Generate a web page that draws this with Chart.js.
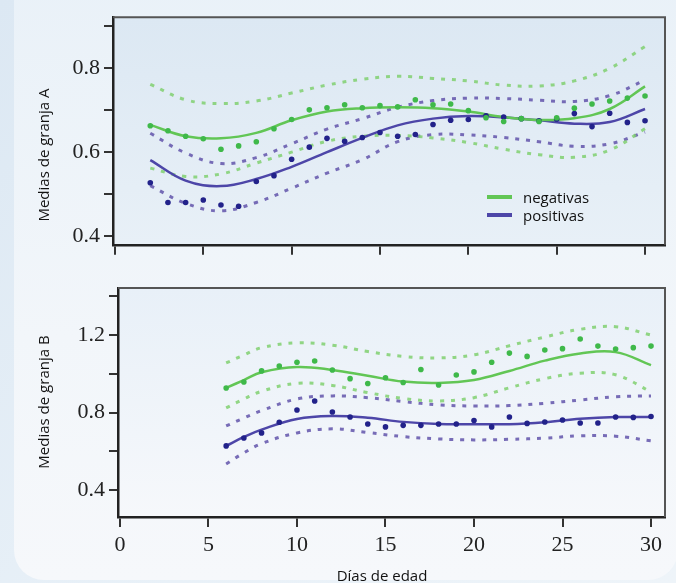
<!DOCTYPE html>
<html lang="es">

<head>
  <meta charset="UTF-8">
  <title>Medias de granja</title>
  <script src="https://cdn.jsdelivr.net/npm/chart.js"></script>
  <style>
    body {
      margin: 0;
      width: 676px;
      height: 583px;
      overflow: hidden;
      position: relative;
      background: linear-gradient(135deg, #dce8f3, #e9f1f8 60%, #eef4f9);
      font-family: 'Open Sans', sans-serif;
      color: #111;
    }
    .card {
      position: absolute;
      left: 14px;
      top: -30px;
      width: 664px;
      height: 610px;
      border-radius: 30px;
      background: linear-gradient(#e9f1f8, #f2f6fa 60%, #f6f8fb);
    }
    canvas { position: absolute; left: 0; }
    #chartA { top: 0; }
    #chartB { top: 262px; }
    .ytitle {
      position: absolute;
      width: 0;
      height: 0;
    }
    .ytitle span {
      position: absolute;
      white-space: nowrap;
      font-size: 15px;
      transform: translate(-50%, -50%) rotate(-90deg);
    }
    .xtitle {
      position: absolute;
      left: 382px;
      top: 575px;
      white-space: nowrap;
      font-size: 15px;
      transform: translate(-50%, -50%);
    }
    .legend {
      position: absolute;
      left: 487px;
      top: 188px;
      font-size: 15px;
      line-height: 18px;
    }
    .legend div { display: flex; align-items: center; }
    .legend i { display: inline-block; width: 25px; height: 4px; margin-right: 11px; }
  </style>
</head>

<body>
  <div class="card"></div>
  <canvas id="chartA" width="676" height="262"></canvas>
  <canvas id="chartB" width="676" height="321"></canvas>
  <div class="ytitle" style="left:43px; top:155px"><span>Medias de granja A</span></div>
  <div class="ytitle" style="left:43px; top:402px"><span>Medias de granja B</span></div>
  <div class="xtitle">Días de edad</div>
  <div class="legend" id="legend"></div>

  <script>
    // series names and colours
    const seriesNames = ['negativas', 'positivas'];
    const green = { dot: '#3fb94a', fit: '#62c655', band: 'rgba(128,208,112,0.85)' };
    const blue = { dot: '#22228a', fit: '#4d46a8', band: 'rgba(98,84,170,0.85)' };

    // x / y ticks
    const xTicks = [0, 5, 10, 15, 20, 25, 30];
    const xLabels = ['0', '5', '10', '15', '20', '25', '30'];
    const yTicksA = [0.4, 0.5, 0.6, 0.7, 0.8, 0.9];
    const yLabelsA = ['0.4', '', '0.6', '', '0.8', ''];
    const yTicksB = [0.4, 0.6, 0.8, 1.0, 1.2, 1.4];
    const yLabelsB = ['0.4', '', '0.8', '', '1.2', ''];

    // granja A: daily means, days 2..30
    const daysA = [2, 3, 4, 5, 6, 7, 8, 9, 10, 11, 12, 13, 14, 15, 16, 17, 18, 19, 20, 21, 22, 23, 24, 25, 26, 27, 28, 29, 30];
    const negA = [0.663, 0.651, 0.638, 0.632, 0.607, 0.615, 0.625, 0.656, 0.678, 0.701, 0.706, 0.713, 0.706, 0.711, 0.708, 0.725, 0.713, 0.715, 0.699, 0.682, 0.673, 0.680, 0.673, 0.682, 0.705, 0.715, 0.722, 0.729, 0.734];
    const posA = [0.527, 0.480, 0.480, 0.486, 0.474, 0.471, 0.530, 0.544, 0.583, 0.612, 0.633, 0.626, 0.635, 0.647, 0.638, 0.642, 0.666, 0.676, 0.678, 0.687, 0.684, 0.680, 0.675, 0.679, 0.692, 0.661, 0.693, 0.671, 0.675];

    // granja A: fitted curves and bands
    const fitDaysA = [2, 4, 6, 8, 10, 12, 14, 16, 18, 20, 22, 24, 26, 28, 30];
    const negFitA = [0.665, 0.638, 0.633, 0.646, 0.676, 0.697, 0.705, 0.707, 0.705, 0.697, 0.684, 0.677, 0.681, 0.703, 0.757];
    const negHiA = [0.762, 0.725, 0.716, 0.722, 0.741, 0.760, 0.774, 0.781, 0.776, 0.770, 0.760, 0.758, 0.770, 0.800, 0.852];
    const negLoA = [0.562, 0.542, 0.548, 0.574, 0.600, 0.626, 0.638, 0.640, 0.634, 0.623, 0.607, 0.594, 0.588, 0.605, 0.656];
    const posFitA = [0.581, 0.532, 0.519, 0.536, 0.565, 0.600, 0.634, 0.664, 0.680, 0.686, 0.683, 0.676, 0.668, 0.672, 0.703];
    const posHiA = [0.645, 0.598, 0.573, 0.587, 0.620, 0.655, 0.680, 0.707, 0.723, 0.729, 0.728, 0.724, 0.721, 0.735, 0.772];
    const posLoA = [0.520, 0.478, 0.460, 0.480, 0.514, 0.550, 0.582, 0.625, 0.642, 0.641, 0.635, 0.625, 0.614, 0.620, 0.648];

    // granja B: daily means, days 6..30
    const daysB = [6, 7, 8, 9, 10, 11, 12, 13, 14, 15, 16, 17, 18, 19, 20, 21, 22, 23, 24, 25, 26, 27, 28, 29, 30];
    const negB = [0.927, 0.958, 1.015, 1.040, 1.060, 1.066, 1.020, 0.975, 0.950, 0.980, 0.955, 1.022, 0.942, 0.994, 1.010, 1.060, 1.107, 1.090, 1.123, 1.130, 1.180, 1.143, 1.128, 1.135, 1.143];
    const posB = [0.628, 0.669, 0.695, 0.750, 0.813, 0.860, 0.803, 0.777, 0.741, 0.726, 0.734, 0.734, 0.741, 0.741, 0.759, 0.726, 0.777, 0.744, 0.751, 0.762, 0.746, 0.746, 0.777, 0.775, 0.780];

    // granja B: fitted curves and bands
    const fitDaysB = [6, 7, 8, 10, 12, 14, 16, 18, 20, 22, 24, 26, 28, 30];
    const negFitB = [0.927, 0.968, 1.008, 1.035, 1.020, 0.990, 0.960, 0.953, 0.968, 1.015, 1.068, 1.105, 1.112, 1.045];
    const negHiB = [1.056, 1.097, 1.135, 1.160, 1.148, 1.115, 1.090, 1.082, 1.098, 1.145, 1.190, 1.230, 1.243, 1.200];
    const negLoB = [0.824, 0.870, 0.910, 0.951, 0.940, 0.903, 0.873, 0.860, 0.877, 0.928, 0.975, 1.003, 0.995, 0.907];
    const posFitB = [0.628, 0.674, 0.712, 0.767, 0.782, 0.773, 0.752, 0.741, 0.740, 0.740, 0.750, 0.768, 0.777, 0.777];
    const posHiB = [0.731, 0.772, 0.810, 0.870, 0.886, 0.877, 0.857, 0.840, 0.834, 0.836, 0.848, 0.865, 0.882, 0.886];
    const posLoB = [0.535, 0.592, 0.640, 0.695, 0.716, 0.697, 0.676, 0.664, 0.659, 0.662, 0.668, 0.680, 0.678, 0.654];

    const xy = (xs, ys) => ys.map((y, i) => ({ x: xs[i], y: y }));

    function dots(xs, ys, col) {
      return { data: xy(xs, ys), backgroundColor: col.dot, borderWidth: 0, pointRadius: 2.8, order: 0 };
    }
    function fit(xs, ys, col) {
      return { data: xy(xs, ys), showLine: true, borderColor: col.fit, borderWidth: 2.5, tension: 0.4, pointRadius: 0, order: 1 };
    }
    function band(xs, ys, col) {
      return { data: xy(xs, ys), showLine: true, borderColor: col.band, borderWidth: 3, borderDash: [4, 7], tension: 0.4, pointRadius: 0, order: 2 };
    }

    // light panel background + thin top/right frame
    const panelFrame = {
      id: 'panelFrame',
      beforeDraw(chart, args, opts) {
        const { ctx, chartArea: a } = chart;
        const g = ctx.createLinearGradient(0, a.top, 0, a.bottom);
        g.addColorStop(0, opts.top);
        g.addColorStop(1, opts.bottom);
        ctx.save();
        ctx.fillStyle = g;
        ctx.fillRect(a.left, a.top, a.width, a.height);
        ctx.restore();
      },
      afterDraw(chart) {
        const { ctx, chartArea: a } = chart;
        ctx.save();
        ctx.strokeStyle = '#555';
        ctx.lineWidth = 2;
        ctx.beginPath();
        ctx.moveTo(a.left, a.top);
        ctx.lineTo(a.right, a.top);
        ctx.lineTo(a.right, a.bottom);
        ctx.stroke();
        ctx.restore();
      }
    };

    const tickFont = { family: 'Liberation Serif', size: 22 };

    function makeChart(id, cfg) {
      return new Chart(document.getElementById(id), {
        type: 'scatter',
        data: { datasets: cfg.datasets },
        plugins: [panelFrame],
        options: {
          responsive: false,
          animation: false,
          layout: { padding: { left: 0, right: 11, top: cfg.padTop, bottom: 0 } },
          plugins: {
            legend: { display: false },
            tooltip: { enabled: false },
            panelFrame: cfg.bg
          },
          scales: {
            x: {
              type: 'linear',
              min: cfg.xMin,
              max: cfg.xMax,
              afterBuildTicks: s => { s.ticks = xTicks.map(v => ({ value: v })); },
              afterFit: s => { s.height = cfg.xHeight; },
              ticks: {
                autoSkip: false,
                maxRotation: 0,
                padding: 5,
                color: '#222',
                font: tickFont,
                callback: (v, i) => cfg.xLabels[i]
              },
              grid: { drawOnChartArea: false, tickLength: 10, color: '#333', lineWidth: 2 },
              border: { color: '#222', width: 2.5 }
            },
            y: {
              min: cfg.yMin,
              max: cfg.yMax,
              afterBuildTicks: s => { s.ticks = cfg.yTicks.map(v => ({ value: v })); },
              afterFit: s => { s.width = cfg.yWidth; },
              ticks: {
                autoSkip: false,
                padding: 4,
                color: '#222',
                font: tickFont,
                callback: (v, i) => cfg.yLabels[i]
              },
              grid: { drawOnChartArea: false, tickLength: 9, color: '#333', lineWidth: 2 },
              border: { color: '#222', width: 2.5 }
            }
          }
        }
      });
    }

    makeChart('chartA', {
      padTop: 15, xHeight: 15, yWidth: 113,
      xMin: -0.11, xMax: 31.13, yMin: 0.379, yMax: 0.922,
      yTicks: yTicksA, yLabels: yLabelsA, xLabels: xLabels.map(() => ''),
      bg: { top: '#dce8f3', bottom: '#e8f0f7' },
      datasets: [
        dots(daysA, negA, green), dots(daysA, posA, blue),
        fit(fitDaysA, negFitA, green), fit(fitDaysA, posFitA, blue),
        band(fitDaysA, negHiA, green), band(fitDaysA, negLoA, green),
        band(fitDaysA, posHiA, blue), band(fitDaysA, posLoA, blue)
      ]
    });

    makeChart('chartB', {
      padTop: 26, xHeight: 66, yWidth: 118,
      xMin: -0.11, xMax: 30.79, yMin: 0.261, yMax: 1.443,
      yTicks: yTicksB, yLabels: yLabelsB, xLabels: xLabels,
      bg: { top: '#e8f0f8', bottom: '#f6f8fb' },
      datasets: [
        dots(daysB, negB, green), dots(daysB, posB, blue),
        fit(fitDaysB, negFitB, green), fit(fitDaysB, posFitB, blue),
        band(fitDaysB, negHiB, green), band(fitDaysB, negLoB, green),
        band(fitDaysB, posHiB, blue), band(fitDaysB, posLoB, blue)
      ]
    });

    // legend for the fitted lines
    const legend = document.getElementById('legend');
    [green, blue].forEach((col, i) => {
      const row = document.createElement('div');
      row.innerHTML = '<i style="background:' + col.fit + '"></i>' + seriesNames[i];
      legend.appendChild(row);
    });
  </script>
</body>

</html>
